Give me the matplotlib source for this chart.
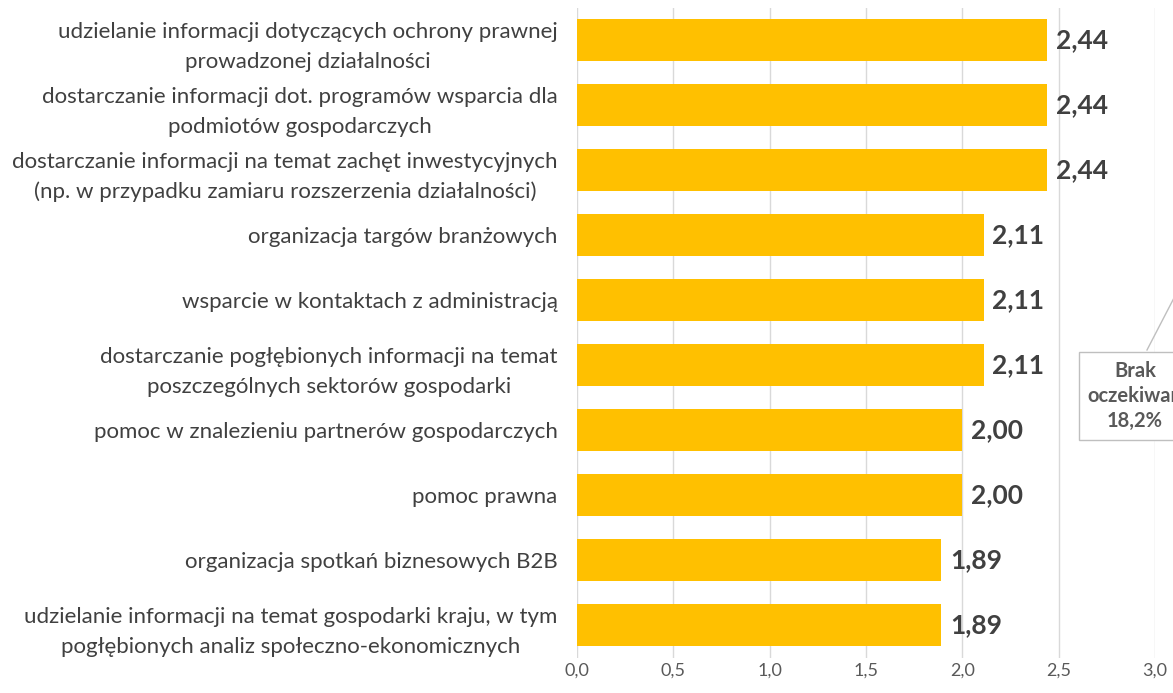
import matplotlib.pyplot as plt
from matplotlib.lines import Line2D
from matplotlib.ticker import FuncFormatter

# dane
kategorie = [
    "udzielanie informacji dotyczących ochrony prawnej\nprowadzonej działalności",
    "dostarczanie informacji dot. programów wsparcia dla\npodmiotów gospodarczych",
    "dostarczanie informacji na temat zachęt inwestycyjnych\n(np. w przypadku zamiaru rozszerzenia działalności)",
    "organizacja targów branżowych",
    "wsparcie w kontaktach z administracją",
    "dostarczanie pogłębionych informacji na temat\nposzczególnych sektorów gospodarki",
    "pomoc w znalezieniu partnerów gospodarczych",
    "pomoc prawna",
    "organizacja spotkań biznesowych B2B",
    "udzielanie informacji na temat gospodarki kraju, w tym\npogłębionych analiz społeczno-ekonomicznych",
]
wartosci = [2.44, 2.44, 2.44, 2.11, 2.11, 2.11, 2.00, 2.00, 1.89, 1.89]
ticki = [0.0, 0.5, 1.0, 1.5, 2.0, 2.5, 3.0]

plt.rcParams["font.family"] = ["Lato", "DejaVu Sans"]

fig = plt.figure(figsize=(11.73, 6.93), dpi=100, facecolor="white")
ax = fig.add_axes([577 / 1173, 1 - 657.5 / 693, (1155 - 577) / 1173, 650 / 693])

y = list(range(len(kategorie)))
ax.barh(y, wartosci, height=0.65, color="#FFC000", zorder=2)
ax.set_ylim(len(kategorie) - 0.5, -0.5)
ax.set_xlim(0, 3.0)
ax.set_xticks(ticki)
ax.xaxis.set_major_formatter(FuncFormatter(lambda v, p: f"{v:.1f}".replace(".", ",")))
ax.grid(axis="x", color="#D9D9D9", linewidth=1, zorder=0)
ax.tick_params(axis="x", length=0, pad=4, labelsize=13, labelcolor="#595959")
ax.tick_params(axis="y", length=0, pad=14)
ax.set_yticks(y)
ax.set_yticklabels(kategorie, fontsize=16, color="#404040", multialignment="center",
                   linespacing=1.6)
for s in ax.spines.values():
    s.set_visible(False)

for i, v in enumerate(wartosci):
    ax.text(v + 0.045, i, f"{v:.2f}".replace(".", ","), va="center", ha="left",
            fontsize=19, fontweight="bold", color="#404040")

# wycięty dymek z sąsiedniego wykresu
fig.text(1135 / 1173, 1 - 396 / 693, "Brak\noczekiwań\n18,2%", ha="center", va="center",
         fontsize=14.5, fontweight="bold", color="#595959", linespacing=1.3,
         bbox=dict(boxstyle="square,pad=0.45", facecolor="white", edgecolor="#BFBFBF"))
fig.add_artist(Line2D([1147 / 1173, 1175 / 1173], [1 - 350 / 693, 1 - 296 / 693],
                      color="#BFBFBF", linewidth=1, transform=fig.transFigure))

plt.savefig("out.png", dpi=100)
